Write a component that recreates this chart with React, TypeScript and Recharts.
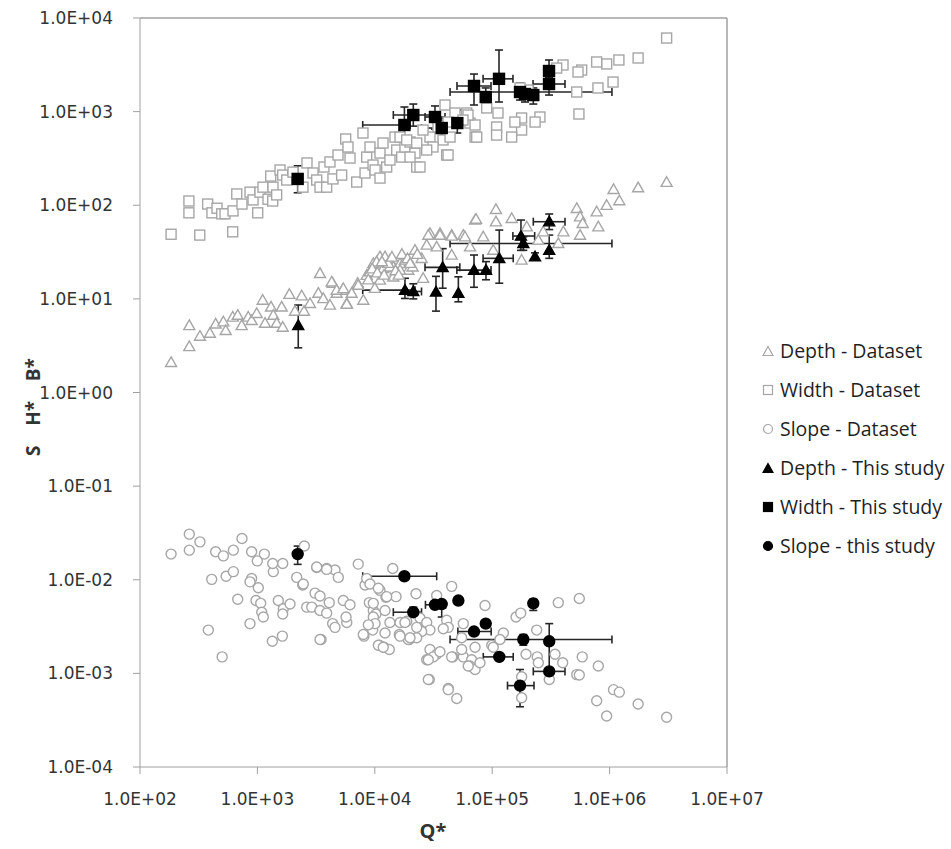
import React from 'react';
import { ScatterChart, Scatter, XAxis, YAxis, ErrorBar, ReferenceLine } from 'recharts';

// decade ticks for both log axes
const xTicks = [1e2, 1e3, 1e4, 1e5, 1e6, 1e7];
const yTicks = [1e-4, 1e-3, 1e-2, 1e-1, 1e0, 1e1, 1e2, 1e3, 1e4];

// [Q*, value]
const widthDataset: [number, number][] = [
  [184, 49], [323, 48], [616, 52], [261, 111], [261, 83], [377, 103], [410, 83], [453, 93], [497, 81], [530, 81],
  [620, 87], [667, 132], [739, 103], [865, 138], [918, 114], [1006, 83], [1052, 138], [1116, 156], [1231, 116],
  [1350, 111], [1358, 156], [1298, 205], [1459, 129], [1559, 238], [1643, 210], [1778, 186], [2010, 226],
  [2445, 156], [2645, 283], [2978, 221], [3200, 186], [3414, 156], [3690, 256], [3890, 156], [4150, 290],
  [4400, 191], [4860, 344], [5220, 210], [5650, 510], [5910, 419], [6150, 319], [7010, 177], [7930, 591],
  [8260, 221], [8530, 327], [9100, 419], [9660, 269], [10050, 238], [11070, 361], [11070, 195], [11750, 462],
  [12620, 256], [13460, 304], [14850, 535], [15370, 389], [16950, 327], [18070, 419], [19950, 474], [21980, 361],
  [22750, 256], [39630, 1177], [48200, 967], [60670, 967], [64710, 755], [71450, 535], [42070, 774], [40930, 344],
  [38110, 498], [29510, 535], [31330, 419], [24270, 256], [27680, 389], [25760, 636], [34510, 685], [19950, 327],
  [16400, 535], [18700, 498], [22750, 462], [3.06e6, 6110], [1.75e6, 3740], [1.2e6, 3560], [944000, 3230],
  [776000, 3390], [578000, 2780], [538000, 2650], [401000, 3150], [354000, 2920], [1.07e6, 2070], [796000, 1790],
  [525000, 1620], [548000, 943], [255000, 876], [232000, 774], [178000, 855], [178000, 636], [156000, 774],
  [146500, 535], [112000, 967], [109000, 685], [109000, 562], [89750, 1094], [73800, 535], [71450, 720],
  [62230, 920], [42070, 344], [43750, 535], [56370, 813], [202000, 1700], [172600, 1790],
];

const depthDataset: [number, number][] = [
  [184, 2.1], [263, 3.1], [263, 5.2], [324, 4.0], [394, 4.3], [441, 5.4], [513, 5.7], [537, 4.6], [617, 6.4],
  [680, 6.7], [735, 5.2], [836, 6.4], [893, 5.9], [986, 7.0], [1109, 9.7], [1161, 5.5], [1306, 8.2], [1366, 6.7],
  [1460, 5.5], [1610, 8.2], [1643, 5.0], [1871, 11.2], [2090, 7.4], [2385, 10.8], [2495, 7.4], [2806, 8.95],
  [3414, 18.7], [3304, 11.5], [3640, 10.1], [4150, 8.6], [4375, 14.7], [4730, 11.5], [5285, 12.4], [5770, 8.95],
  [6355, 11.5], [7145, 14.7], [7980, 9.7], [8530, 17.9], [9710, 23.9], [11070, 28.2], [11800, 21.2], [13460, 26.0],
  [14380, 22.0], [16400, 23.9], [18070, 26.0], [21980, 33.2], [19290, 20.3], [4295, 15.2], [4730, 12.4],
  [5395, 12.9], [5770, 8.8], [7230, 14.0], [9100, 19.5], [10370, 24.9], [12220, 28.2], [13460, 22.0], [16400, 20.3],
  [25060, 27.1], [29510, 50.1], [35890, 50.1], [27680, 37.6], [33650, 36.0], [45190, 48.0], [56750, 48.0],
  [71450, 69.5], [25820, 16.6], [11070, 15.9], [14380, 17.2], [45190, 29.4], [64710, 36.0], [9500, 21],
  [10500, 19], [12000, 18], [13000, 24], [15000, 20], [17000, 30], [19000, 27], [21000, 22], [23000, 30],
  [11500, 25], [14000, 28], [16000, 18], [20000, 24], [8800, 16], [10000, 13], [3.06e6, 176], [1.75e6, 154],
  [1.08e6, 148], [1.21e6, 112], [944000, 100], [776000, 85.2], [802000, 58.9], [525000, 92.7], [560000, 75.4],
  [590000, 64.1], [560000, 48.0], [366000, 39.1], [404000, 52.1], [272000, 52.1], [178000, 26.0], [146500, 72.4],
  [107600, 90.4], [107600, 66.7], [72780, 71.2], [83950, 46.1], [58610, 46.1], [45190, 46.9], [35890, 48.0],
  [28560, 48.0], [197000, 58.9], [102000, 33.2], [247000, 42.5],
];

const slopeDataset: [number, number][] = [
  [184, 0.0188], [263, 0.0307], [263, 0.0207], [324, 0.0254], [408, 0.0101], [441, 0.0199], [513, 0.018],
  [541, 0.0109], [624, 0.0207], [624, 0.0122], [680, 0.0062], [739, 0.0276], [382, 0.0029], [501, 0.0015],
  [865, 0.0034], [893, 0.0199], [893, 0.0103], [865, 0.0095], [998, 0.0159], [1018, 0.0082], [1146, 0.0188],
  [973, 0.006], [1067, 0.0056], [1089, 0.0045], [1123, 0.004], [1366, 0.0122], [1350, 0.0149], [1508, 0.006],
  [1643, 0.0149], [1663, 0.0049], [1643, 0.0043], [1896, 0.0055], [1340, 0.0022], [1631, 0.0025], [2163, 0.0106],
  [2432, 0.0088], [2512, 0.0229], [2632, 0.0051], [2904, 0.0051], [3097, 0.0072], [3200, 0.0135], [3414, 0.0067],
  [3484, 0.0023], [3414, 0.0047], [3890, 0.0132], [4093, 0.0057], [3890, 0.0044], [4375, 0.0034], [4581, 0.0127],
  [4888, 0.0106], [4581, 0.0031], [5395, 0.006], [5770, 0.0035], [5690, 0.004], [6150, 0.0054], [7230, 0.0147],
  [8260, 0.0088], [8090, 0.0025], [8980, 0.0057], [9710, 0.0047], [9590, 0.0029], [10230, 0.0043], [11070, 0.0077],
  [10920, 0.002], [11970, 0.0019], [13290, 0.0018], [12450, 0.0065], [12220, 0.0027], [14220, 0.0132],
  [15170, 0.0066], [16180, 0.0026], [18710, 0.0036], [19680, 0.0023], [22440, 0.0071], [2460, 0.009],
  [3200, 0.0137], [3890, 0.0129], [8530, 0.0103], [9100, 0.009], [10720, 0.0081], [45190, 0.0085], [33650, 0.0068],
  [12620, 0.0066], [9710, 0.0056], [9710, 0.004], [10050, 0.0034], [12220, 0.0047], [13460, 0.0035],
  [16400, 0.0035], [18070, 0.0035], [24270, 0.0039], [27680, 0.0035], [29510, 0.0029], [25060, 0.0028],
  [22750, 0.0031], [40930, 0.0037], [42270, 0.0031], [38300, 0.003], [54950, 0.0024], [56750, 0.0034],
  [22750, 0.0024], [19290, 0.0023], [16400, 0.0025], [10720, 0.002], [11800, 0.0019], [29510, 0.0018],
  [33650, 0.0016], [27680, 0.0014], [31480, 0.0015], [46130, 0.0015], [56750, 0.0015], [66830, 0.0014],
  [64710, 0.0012], [71450, 0.0011], [29100, 0.00086], [42270, 0.00069], [49890, 0.00054], [3414, 0.0023],
  [7980, 0.0026], [8810, 0.0033], [86900, 0.0053], [159600, 0.004], [175000, 0.0044], [365600, 0.0057],
  [552000, 0.0063], [239300, 0.0029], [124500, 0.0027], [99100, 0.002], [71450, 0.0019], [54950, 0.0018],
  [78700, 0.0013], [62500, 0.0012], [28560, 0.0014], [45190, 0.0015], [35890, 0.0017], [28560, 0.00086],
  [42270, 0.00067], [194100, 0.0016], [242100, 0.0015], [247200, 0.0013], [342800, 0.0016], [398400, 0.0013],
  [306200, 0.00086], [524800, 0.00097], [552000, 0.00096], [584800, 0.0015], [801600, 0.0012], [178200, 0.00092],
  [178200, 0.00055], [1.08e6, 0.00067], [1.21e6, 0.00063], [776200, 0.00051], [944000, 0.00035], [1.75e6, 0.00047],
  [3.06e6, 0.00034], [19950, 0.0024], [116400, 0.0023], [102100, 0.0019],
];

// this study: [Q*, value, Q* low, Q* high, value low, value high]
const widthStudy: number[][] = [
  [2203, 191, 2203, 2203, 136, 264],
  [17870, 720, 7890, 20000, 535, 1120],
  [21280, 920, 14380, 31330, 700, 1205],
  [32560, 876, 26780, 39630, 650, 1150],
  [37150, 668, 25000, 41000, 462, 855],
  [50470, 755, 50470, 50470, 591, 1040],
  [69980, 1880, 50120, 97700, 1177, 2520],
  [88100, 1432, 81000, 96000, 1177, 1790],
  [114300, 2240, 83600, 150300, 1267, 4550],
  [172600, 1620, 43750, 1047000, 1330, 2020],
  [190300, 1542, 190300, 190300, 1267, 1880],
  [223900, 1503, 223900, 223900, 1205, 1790],
  [304800, 2716, 304800, 304800, 2300, 3560],
  [304800, 1972, 222800, 416900, 1503, 2300],
];

const depthStudy: number[][] = [
  [2228, 5.2, 2228, 2228, 3.0, 8.6],
  [18070, 12.4, 7890, 22000, 10.1, 16.6],
  [21280, 12.0, 18000, 25000, 10.0, 14.5],
  [33200, 11.9, 33200, 33200, 7.4, 17.4],
  [37840, 21.7, 26780, 53000, 13, 34.4],
  [51500, 11.5, 51500, 51500, 9.3, 17.2],
  [69980, 20.3, 50000, 97700, 13.3, 29.4],
  [88510, 20.3, 88510, 88510, 16, 25],
  [114900, 27.1, 83600, 151000, 14.7, 54.3],
  [175800, 46.9, 150000, 230000, 33, 69.5],
  [184100, 39.1, 43750, 1047000, 33, 46],
  [231600, 28.2, 231600, 231600, 26, 31],
  [306000, 66.7, 223900, 416900, 55, 80.6],
  [306000, 33.2, 306000, 306000, 27.1, 48],
];

const slopeStudy: number[][] = [
  [2203, 0.0188, 2203, 2203, 0.0146, 0.0229],
  [17870, 0.0109, 7890, 33650, 0.0109, 0.0109],
  [21280, 0.0045, 14380, 25000, 0.004, 0.0051],
  [32560, 0.0054, 27000, 40000, 0.0054, 0.0054],
  [37150, 0.0055, 37150, 37150, 0.004, 0.006],
  [51500, 0.006, 51500, 51500, 0.006, 0.006],
  [69980, 0.0028, 51000, 98000, 0.0028, 0.0028],
  [88100, 0.0034, 88100, 88100, 0.0034, 0.0034],
  [114900, 0.0015, 83950, 151000, 0.0015, 0.0015],
  [184100, 0.0023, 43750, 1047000, 0.002, 0.0026],
  [223900, 0.0056, 223900, 223900, 0.0047, 0.0062],
  [172600, 0.00074, 135000, 227000, 0.00044, 0.0011],
  [306000, 0.0022, 306000, 306000, 0.0011, 0.0034],
  [306000, 0.00105, 223900, 416900, 0.00105, 0.00105],
];

const FONT = '"Open Sans", Calibri, sans-serif';
const TICK_FONT = '"DejaVu Sans", sans-serif';
const GREY = '#a6a6a6';
const AXIS = '#a0a0a0';

const toRows = (pts: [number, number][]) => pts.map(([x, y]) => ({ x, y }));
const toStudyRows = (pts: number[][]) =>
  pts.map(([x, y, xLo, xHi, yLo, yHi]) => ({
    x,
    y,
    xErr: [x - xLo, xHi - x],
    yErr: [y - yLo, yHi - y],
  }));

const fmtSci = (v: number) => {
  const e = Math.round(Math.log10(v));
  return `1.0E${e < 0 ? '-' : '+'}${String(Math.abs(e)).padStart(2, '0')}`;
};

const triangle = (fill: string, stroke: string, s: number) => (p: any) => (
  <polygon
    points={`${p.cx},${p.cy - s} ${p.cx + s},${p.cy + s * 0.75} ${p.cx - s},${p.cy + s * 0.75}`}
    fill={fill}
    stroke={stroke}
    strokeWidth={1.4}
  />
);
const square = (fill: string, stroke: string, s: number) => (p: any) => (
  <rect x={p.cx - s} y={p.cy - s} width={s * 2} height={s * 2} fill={fill} stroke={stroke} strokeWidth={1.4} />
);
const circle = (fill: string, stroke: string, r: number) => (p: any) => (
  <circle cx={p.cx} cy={p.cy} r={r} fill={fill} stroke={stroke} strokeWidth={1.4} />
);

const legendItems = [
  { label: 'Depth - Dataset', icon: 'tri', fill: 'none', stroke: GREY },
  { label: 'Width - Dataset', icon: 'sq', fill: 'none', stroke: GREY },
  { label: 'Slope - Dataset', icon: 'circ', fill: 'none', stroke: GREY },
  { label: 'Depth - This study', icon: 'tri', fill: '#000', stroke: '#000' },
  { label: 'Width - This study', icon: 'sq', fill: '#000', stroke: '#000' },
  { label: 'Slope - this study', icon: 'circ', fill: '#000', stroke: '#000' },
];

function LegendIcon({ icon, fill, stroke }: { icon: string; fill: string; stroke: string }) {
  return (
    <svg width={12} height={12} style={{ marginRight: 6 }}>
      {icon === 'tri' && <polygon points="6,1.5 11,10.5 1,10.5" fill={fill} stroke={stroke} strokeWidth={1.2} />}
      {icon === 'sq' && <rect x={1.5} y={1.5} width={9} height={9} fill={fill} stroke={stroke} strokeWidth={1.2} />}
      {icon === 'circ' && <circle cx={6} cy={6} r={4.5} fill={fill} stroke={stroke} strokeWidth={1.2} />}
    </svg>
  );
}

export default function App() {
  const errStyle = { stroke: '#262626', strokeWidth: 1.6, width: 4 };
  return (
    <div style={{ position: 'absolute', left: 0, top: 0, width: 951, height: 849, background: '#fff' }}>
      <ScatterChart width={951} height={849} margin={{ top: 18, right: 224, bottom: 22, left: 10 }}>
        <XAxis
          type="number"
          dataKey="x"
          scale="log"
          domain={[1e2, 1e7]}
          ticks={xTicks}
          allowDataOverflow
          tickFormatter={fmtSci}
          stroke={AXIS}
          tickSize={7}
          tickMargin={19}
          height={60}
          tick={{ fill: '#333', fontSize: 17, fontFamily: TICK_FONT }}
          label={{
            content: () => (
              <text x={433} y={830} textAnchor="middle" dominantBaseline="central" fontFamily={FONT} fontSize={20} fontWeight={700} fill="#333">
                Q*
              </text>
            ),
          }}
        />
        <YAxis
          type="number"
          dataKey="y"
          scale="log"
          domain={[1e-4, 1e4]}
          ticks={yTicks}
          allowDataOverflow
          tickFormatter={fmtSci}
          stroke={AXIS}
          tickSize={7}
          tickMargin={20}
          width={130}
          tick={{ fill: '#333', fontSize: 17, fontFamily: TICK_FONT }}
          label={{
            content: () => (
              <text
                x={33}
                y={407}
                transform="rotate(-90 33 407)"
                textAnchor="middle"
                dominantBaseline="central"
                fontFamily={FONT}
                fontSize={19}
                fontWeight={700}
                fill="#333"
                style={{ whiteSpace: 'pre' }}
              >
                {'S    H*    B*'}
              </text>
            ),
          }}
        />
        <ReferenceLine y={1e4} stroke={AXIS} strokeWidth={1.5} />
        <ReferenceLine x={1e7} stroke={AXIS} strokeWidth={1.5} />

        <Scatter data={toRows(depthDataset)} shape={triangle('#fff', GREY, 5.5)} isAnimationActive={false} />
        <Scatter data={toRows(widthDataset)} shape={square('#fff', GREY, 5)} isAnimationActive={false} />
        <Scatter data={toRows(slopeDataset)} shape={circle('#fff', GREY, 5)} isAnimationActive={false} />

        <Scatter data={toStudyRows(depthStudy)} shape={triangle('#000', '#000', 5.5)} isAnimationActive={false}>
          <ErrorBar dataKey="xErr" direction="x" {...errStyle} />
          <ErrorBar dataKey="yErr" direction="y" {...errStyle} />
        </Scatter>
        <Scatter data={toStudyRows(widthStudy)} shape={square('#000', '#000', 5.5)} isAnimationActive={false}>
          <ErrorBar dataKey="xErr" direction="x" {...errStyle} />
          <ErrorBar dataKey="yErr" direction="y" {...errStyle} />
        </Scatter>
        <Scatter data={toStudyRows(slopeStudy)} shape={circle('#000', '#000', 5.5)} isAnimationActive={false}>
          <ErrorBar dataKey="xErr" direction="x" {...errStyle} />
          <ErrorBar dataKey="yErr" direction="y" {...errStyle} />
        </Scatter>
      </ScatterChart>

      <div style={{ position: 'absolute', left: 762, top: 331, fontFamily: FONT, fontSize: 19.5, color: '#1f1f1f' }}>
        {legendItems.map((it) => (
          <div key={it.label} style={{ display: 'flex', alignItems: 'center', height: 39, whiteSpace: 'nowrap' }}>
            <LegendIcon icon={it.icon} fill={it.fill} stroke={it.stroke} />
            <span>{it.label}</span>
          </div>
        ))}
      </div>
    </div>
  );
}
